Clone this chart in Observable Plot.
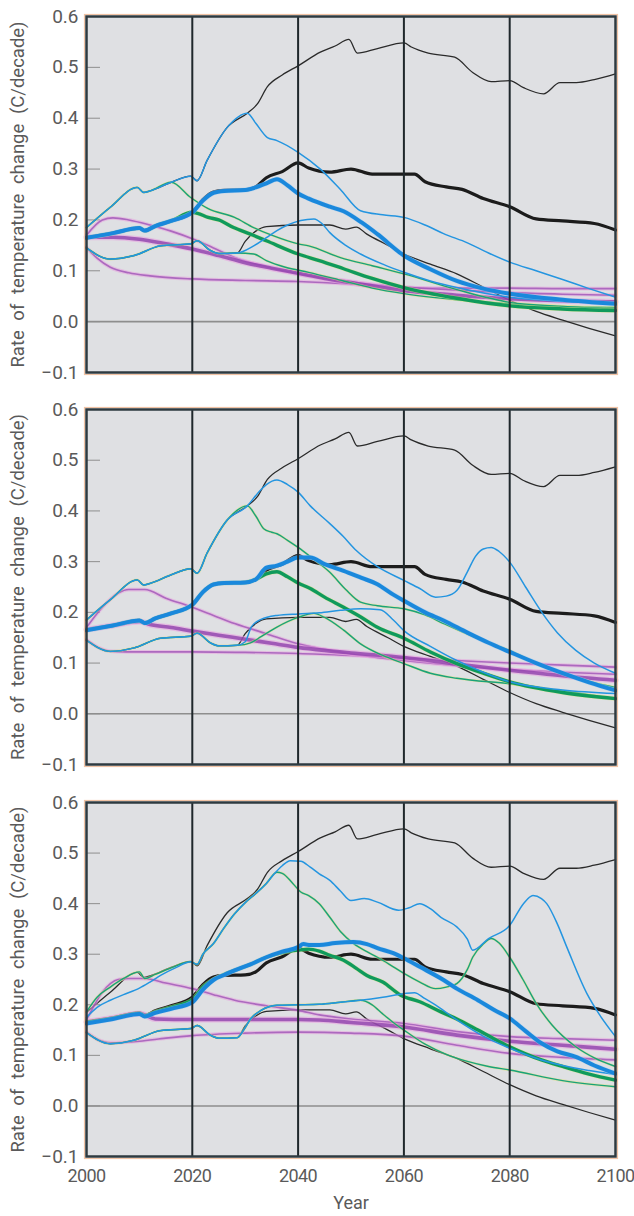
<!DOCTYPE html>
<html>
<head>
<meta charset="utf-8">
<script src="https://cdn.jsdelivr.net/npm/d3@7"></script>
<script src="https://cdn.jsdelivr.net/npm/@observablehq/plot@0.6"></script>
<style>
  html, body { margin: 0; padding: 0; background: #ffffff; }
  #chart svg { display: block; }
  #chart g[aria-label="x-axis tick label"] text { letter-spacing: -0.6px; }
</style>
</head>
<body>
<div id="chart"></div>
<script>
// ---------- axis values ----------
const yTicks = [-0.1, 0.0, 0.1, 0.2, 0.3, 0.4, 0.5, 0.6];
const xTicks = [2000, 2020, 2040, 2060, 2080, 2100];
const decadeLines = [2020, 2040, 2060, 2080];
const yLabel = "Rate of temperature change (C/decade)";
const xLabel = "Year";

// ---------- shared path segments [year, rate] ----------
const centralEarly = [[2000,0.165],[2005,0.174],[2010,0.184],[2011,0.179],[2013,0.188],[2016,0.198],[2020,0.215]];
const upperEarly = [[2000,0.185],[2004.5,0.225],[2009.6,0.264],[2010.8,0.254],[2012,0.257],[2016,0.274],[2019.7,0.286],[2020.9,0.277],[2022.8,0.317],[2026.6,0.382],[2030.4,0.41]];
const lowerEarly = [[2000,0.145],[2004.5,0.123],[2009,0.13],[2014,0.149],[2019.7,0.153],[2020.9,0.159],[2023.4,0.14],[2025,0.134],[2028.5,0.135]];

// ---------- black reference lines (same in all panels) ----------
const blackThickLate = [[2022,0.24],[2024,0.255],[2026,0.258],[2030,0.259],[2032,0.265],[2034,0.283],[2037,0.295],[2040,0.312],[2042,0.302],[2046,0.294],[2050,0.3],[2054,0.29],[2062,0.29],[2064,0.275],[2068,0.265],[2071,0.26],[2075,0.242],[2080,0.226],[2085,0.202],[2090,0.198],[2096,0.193],[2100,0.18]];
const blackUpperLate = [[2032.3,0.428],[2034.2,0.462],[2037,0.485],[2040,0.503],[2044.2,0.53],[2047,0.542],[2049.6,0.555],[2051.2,0.528],[2055,0.537],[2060,0.548],[2061.4,0.54],[2064.6,0.528],[2069.6,0.52],[2073,0.49],[2076.5,0.472],[2080,0.474],[2082.6,0.46],[2086.4,0.448],[2089.5,0.47],[2092.6,0.47],[2096,0.476],[2100,0.487]];
const blackLowerLate = [[2030,0.158],[2032,0.178],[2034,0.187],[2040,0.19],[2046,0.19],[2049,0.182],[2051,0.186],[2053,0.172],[2057,0.15],[2060,0.133],[2065,0.113],[2070,0.094],[2075,0.068],[2080,0.042],[2085,0.02],[2090,0.003],[2095,-0.013],[2100,-0.028]];

// ---------- panel 1 ----------
const p1BlueThickLate = [[2022,0.238],[2024,0.253],[2026,0.257],[2030,0.259],[2032,0.264],[2034,0.272],[2036,0.28],[2038,0.268],[2040,0.252],[2042,0.242],[2046,0.226],[2048.6,0.217],[2052,0.195],[2055,0.172],[2060,0.13],[2065,0.103],[2070,0.08],[2075,0.065],[2080,0.055],[2090,0.043],[2100,0.035]];
const p1BlueUpperLate = [[2032,0.39],[2034.2,0.362],[2036,0.356],[2040,0.333],[2044.2,0.3],[2048,0.26],[2051.8,0.218],[2056,0.21],[2060,0.205],[2064,0.19],[2067.5,0.173],[2072,0.155],[2076,0.135],[2080,0.117],[2085,0.1],[2090,0.083],[2095,0.065],[2100,0.048]];
const p1BlueLowerLate = [[2031.6,0.149],[2034,0.165],[2036,0.179],[2038,0.19],[2040.5,0.199],[2043,0.202],[2044.5,0.193],[2046,0.175],[2049,0.15],[2051.8,0.133],[2056,0.113],[2060,0.097],[2065,0.08],[2070,0.067],[2080,0.048],[2090,0.04],[2100,0.035]];
const p1GreenThickLate = [[2021,0.213],[2023,0.205],[2025,0.2],[2027.8,0.185],[2031,0.172],[2034,0.159],[2040,0.133],[2044,0.12],[2048.6,0.104],[2054,0.085],[2060,0.067],[2070,0.046],[2080,0.031],[2090,0.025],[2100,0.022]];
const p1GreenUpperLate = [[2019.7,0.244],[2023,0.222],[2028,0.205],[2031.6,0.185],[2035,0.17],[2040,0.153],[2042,0.149],[2048,0.126],[2054,0.11],[2060,0.094],[2070,0.063],[2080,0.038],[2090,0.03],[2100,0.025]];
const p1GreenLowerLate = [[2031.6,0.133],[2034,0.12],[2037.6,0.107],[2042,0.097],[2048.6,0.08],[2054,0.066],[2060,0.055],[2070,0.043],[2080,0.035],[2090,0.03],[2100,0.028]];
const p1PurpleUpper = [[2000,0.17],[2003,0.2],[2005,0.204],[2008,0.2],[2012,0.19],[2016,0.178],[2020,0.163],[2024,0.145],[2028,0.126],[2034,0.108],[2040,0.094],[2045,0.085],[2050,0.078],[2060,0.068],[2070,0.062],[2080,0.057],[2090,0.054],[2100,0.052]];
const p1PurpleThick = [[2000,0.166],[2005,0.166],[2010,0.162],[2015,0.153],[2020,0.143],[2025,0.13],[2030,0.116],[2035,0.105],[2040,0.095],[2045,0.085],[2050,0.077],[2060,0.061],[2070,0.052],[2080,0.045],[2090,0.041],[2100,0.039]];
const p1PurpleLower = [[2000,0.146],[2002,0.125],[2004.5,0.107],[2008,0.096],[2012,0.09],[2020,0.084],[2030,0.081],[2040,0.079],[2050,0.074],[2060,0.067],[2070,0.066],[2080,0.066],[2090,0.065],[2100,0.065]];

// ---------- panel 2 ----------
const p2BlueThickLate = [[2034,0.288],[2036,0.292],[2038,0.3],[2040,0.308],[2042.3,0.308],[2045,0.295],[2048.6,0.282],[2052,0.268],[2054.9,0.256],[2058,0.235],[2060,0.223],[2064,0.2],[2067.5,0.184],[2072,0.16],[2076,0.14],[2080,0.122],[2085,0.1],[2090,0.08],[2095,0.062],[2100,0.046]];
const p2GreenThickLate = [[2032,0.265],[2034,0.276],[2036,0.28],[2038,0.27],[2040,0.258],[2042.3,0.247],[2045,0.23],[2048.6,0.21],[2052,0.19],[2054.9,0.171],[2060,0.149],[2065,0.122],[2070,0.099],[2075,0.08],[2080,0.063],[2090,0.042],[2100,0.03]];
const p2BlueUpperLate = [[2032.3,0.434],[2034,0.452],[2036,0.461],[2038,0.452],[2040,0.437],[2042.3,0.41],[2046,0.375],[2048.5,0.35],[2051,0.322],[2055,0.29],[2060,0.263],[2063,0.247],[2066,0.23],[2068,0.232],[2070,0.243],[2072,0.28],[2073.5,0.31],[2075,0.325],[2076.5,0.328],[2078,0.32],[2080,0.299],[2083,0.25],[2086.2,0.198],[2089,0.16],[2092.5,0.125],[2096,0.1],[2100,0.08]];
const p2GreenUpperLate = [[2032,0.39],[2033.5,0.365],[2035,0.358],[2036,0.355],[2038,0.342],[2040,0.328],[2042.3,0.31],[2046,0.279],[2049,0.245],[2051.8,0.22],[2055,0.213],[2060,0.207],[2064,0.195],[2067.5,0.178],[2072,0.157],[2076,0.14],[2080,0.125],[2085,0.1],[2090,0.08],[2095,0.064],[2100,0.052]];
const p2BlueLowerLate = [[2030,0.142],[2031.2,0.172],[2033,0.186],[2036,0.194],[2040,0.197],[2044,0.199],[2048,0.204],[2051.8,0.207],[2055.5,0.205],[2058,0.185],[2060,0.164],[2065,0.133],[2070,0.105],[2075,0.082],[2080,0.063],[2090,0.047],[2100,0.04]];
const p2GreenLowerLate = [[2031,0.14],[2033,0.152],[2036,0.171],[2040,0.19],[2043,0.198],[2045,0.19],[2048.6,0.165],[2051.8,0.138],[2056,0.115],[2060,0.099],[2065,0.08],[2070,0.07],[2080,0.059],[2090,0.045],[2100,0.03]];
const p2PurpleUpper = [[2000,0.17],[2003,0.21],[2006,0.238],[2008,0.245],[2011,0.245],[2015,0.228],[2020,0.21],[2024,0.194],[2028,0.178],[2034,0.158],[2040,0.138],[2045,0.127],[2050,0.118],[2060,0.105],[2070,0.095],[2080,0.087],[2090,0.082],[2100,0.078]];
const p2PurpleThick = [[2000,0.166],[2005,0.174],[2010,0.182],[2012,0.176],[2016,0.17],[2020,0.163],[2025,0.155],[2030,0.147],[2035,0.139],[2040,0.131],[2045,0.125],[2050,0.12],[2060,0.111],[2070,0.098],[2080,0.086],[2090,0.075],[2100,0.066]];
const p2PurpleLower = [[2000,0.146],[2002,0.132],[2005,0.123],[2010,0.122],[2020,0.122],[2030,0.121],[2040,0.119],[2050,0.115],[2060,0.11],[2070,0.105],[2080,0.1],[2090,0.096],[2100,0.092]];

// ---------- panel 3 ----------
const p3BlueUpper = [[2000,0.175],[2002,0.195],[2004.5,0.209],[2007,0.22],[2010,0.233],[2012,0.245],[2014,0.258],[2017,0.274],[2019.7,0.285],[2020.9,0.28],[2022,0.3],[2024,0.321],[2026,0.352],[2028,0.38],[2030,0.402],[2032,0.42],[2034,0.44],[2035.5,0.459],[2037,0.475],[2038.5,0.485],[2040.5,0.484],[2042.3,0.472],[2044,0.459],[2046,0.446],[2048,0.425],[2050,0.406],[2052.5,0.41],[2055,0.403],[2059,0.387],[2061,0.392],[2063,0.4],[2065,0.39],[2067,0.373],[2070,0.354],[2072,0.33],[2073,0.308],[2076,0.331],[2080,0.357],[2082.6,0.4],[2084.4,0.416],[2086,0.41],[2087,0.4],[2089,0.36],[2090.8,0.314],[2094.6,0.222],[2097,0.18],[2100,0.137]];
const p3GreenUpper = [[2000,0.186],[2002,0.215],[2004.5,0.235],[2007,0.252],[2010,0.265],[2011,0.252],[2013,0.26],[2016,0.273],[2019.7,0.285],[2020.9,0.28],[2022,0.3],[2024,0.321],[2026,0.352],[2028,0.38],[2030,0.402],[2032,0.42],[2034,0.44],[2036,0.462],[2037,0.46],[2039,0.44],[2040.5,0.423],[2042,0.416],[2044,0.4],[2046,0.373],[2048,0.345],[2050.5,0.321],[2053,0.305],[2055,0.294],[2058,0.275],[2060,0.262],[2063,0.245],[2066,0.232],[2068,0.235],[2070,0.242],[2072,0.27],[2073,0.294],[2075,0.32],[2076.5,0.331],[2078,0.322],[2080,0.294],[2082.5,0.25],[2085,0.203],[2088,0.16],[2092.5,0.117],[2096,0.095],[2100,0.078]];
const p3BlueThick = [[2000,0.163],[2005,0.172],[2010,0.182],[2011,0.177],[2013,0.184],[2016,0.192],[2020,0.205],[2022,0.23],[2024,0.249],[2026,0.259],[2028,0.268],[2031,0.28],[2034,0.294],[2037,0.305],[2040,0.314],[2041,0.32],[2042.3,0.318],[2044,0.318],[2047,0.322],[2050.5,0.324],[2053,0.32],[2055,0.312],[2058,0.302],[2060,0.292],[2063,0.275],[2067.5,0.249],[2070,0.232],[2074,0.209],[2077,0.19],[2080,0.173],[2083,0.148],[2086,0.124],[2089,0.108],[2092.5,0.097],[2096,0.08],[2100,0.064]];
const p3GreenThick = [[2000,0.165],[2005,0.173],[2010,0.183],[2011,0.178],[2013,0.186],[2016,0.195],[2020,0.21],[2022,0.235],[2024,0.25],[2026,0.26],[2028,0.268],[2031,0.28],[2034,0.294],[2037,0.303],[2040,0.308],[2042,0.31],[2044,0.306],[2046,0.298],[2048.6,0.288],[2051,0.272],[2053,0.258],[2056,0.245],[2059.4,0.219],[2063,0.206],[2067,0.186],[2070,0.172],[2074,0.15],[2077,0.133],[2080,0.117],[2083,0.103],[2086,0.091],[2090,0.078],[2095,0.063],[2100,0.051]];
const p3BlueLowerLate = [[2029.7,0.15],[2031,0.172],[2033,0.189],[2036,0.199],[2040,0.2],[2044,0.201],[2048,0.205],[2051.8,0.209],[2056,0.215],[2060,0.222],[2062,0.224],[2064,0.212],[2066.5,0.196],[2070,0.17],[2075,0.138],[2080,0.114],[2086,0.091],[2090,0.08],[2095,0.07],[2100,0.062]];
const p3GreenLowerLate = [[2029.7,0.15],[2031,0.172],[2033,0.189],[2036,0.199],[2040,0.2],[2044,0.201],[2048,0.205],[2051.8,0.209],[2054,0.2],[2056,0.182],[2058,0.165],[2060,0.15],[2064,0.122],[2068,0.102],[2072,0.088],[2076,0.078],[2080,0.071],[2090,0.05],[2100,0.038]];
const p3PurpleUpper = [[2000,0.17],[2003,0.225],[2006,0.25],[2008,0.252],[2011,0.252],[2015,0.243],[2020,0.232],[2024,0.22],[2028,0.209],[2034,0.198],[2040,0.189],[2044,0.18],[2050,0.172],[2060,0.163],[2070,0.147],[2080,0.137],[2090,0.133],[2100,0.13]];
const p3PurpleThick = [[2000,0.166],[2005,0.174],[2010,0.183],[2011,0.18],[2013,0.172],[2020,0.171],[2030,0.171],[2040,0.171],[2044,0.17],[2050,0.165],[2060,0.156],[2070,0.14],[2080,0.128],[2090,0.12],[2100,0.112]];
const p3PurpleLower = [[2000,0.146],[2002,0.132],[2004.5,0.125],[2010,0.128],[2015,0.134],[2020,0.139],[2030,0.144],[2040,0.146],[2050,0.144],[2060,0.138],[2070,0.12],[2080,0.104],[2090,0.096],[2100,0.091]];

// ---------- assemble panels ----------
const blackThick = centralEarly.concat(blackThickLate);
const blackUpper = upperEarly.concat(blackUpperLate);
const blackLower = lowerEarly.concat(blackLowerLate);

const panels = [
  {
    blackThick, blackUpper, blackLower,
    purpleUpper: p1PurpleUpper, purpleThick: p1PurpleThick, purpleLower: p1PurpleLower,
    greenUpper: upperEarly.slice(0, 6).concat(p1GreenUpperLate),
    greenLower: lowerEarly.concat(p1GreenLowerLate),
    greenThick: centralEarly.concat(p1GreenThickLate),
    blueUpper: upperEarly.concat(p1BlueUpperLate),
    blueLower: lowerEarly.concat(p1BlueLowerLate),
    blueThick: centralEarly.concat(p1BlueThickLate)
  },
  {
    blackThick, blackUpper, blackLower,
    purpleUpper: p2PurpleUpper, purpleThick: p2PurpleThick, purpleLower: p2PurpleLower,
    greenUpper: upperEarly.concat(p2GreenUpperLate),
    greenLower: lowerEarly.concat(p2GreenLowerLate),
    greenThick: blackThick.filter(d => d[0] <= 2030).concat(p2GreenThickLate),
    blueUpper: upperEarly.concat(p2BlueUpperLate),
    blueLower: lowerEarly.concat(p2BlueLowerLate),
    blueThick: blackThick.filter(d => d[0] <= 2032).concat(p2BlueThickLate)
  },
  {
    blackThick, blackUpper, blackLower,
    purpleUpper: p3PurpleUpper, purpleThick: p3PurpleThick, purpleLower: p3PurpleLower,
    greenUpper: p3GreenUpper,
    greenLower: lowerEarly.concat(p3GreenLowerLate),
    greenThick: p3GreenThick,
    blueUpper: p3BlueUpper,
    blueLower: lowerEarly.concat(p3BlueLowerLate),
    blueThick: p3BlueThick
  }
];

// ---------- styles ----------
const drawOrder = ["blackUpper","blackLower","blackThick","purpleLower","purpleUpper","purpleThick","greenLower","greenUpper","greenThick","blueLower","blueUpper","blueThick"];
const lineStyle = {
  blackThick:  {core: "#1c1c1c", w: 3.2},
  blackUpper:  {core: "#2a2a2a", w: 1.3},
  blackLower:  {core: "#2a2a2a", w: 1.3},
  purpleThick: {core: "#8a3aa8", w: 3.6, halo: "#e79ee0", hw: 6, op: 0.75},
  purpleUpper: {core: "#9a4cb4", w: 1.6, halo: "#e6a2de", hw: 3.8, op: 0.75},
  purpleLower: {core: "#9a4cb4", w: 1.6, halo: "#e6a2de", hw: 3.8, op: 0.75},
  greenThick:  {core: "#0f9a5c", w: 3.4, halo: "#d8e27a", hw: 4.4, op: 1},
  greenUpper:  {core: "#19a27a", w: 1.4, halo: "#e2e07e", hw: 2.6, op: 1},
  greenLower:  {core: "#19a27a", w: 1.4, halo: "#e2e07e", hw: 2.6, op: 1},
  blueThick:   {core: "#1a88dc", w: 4, halo: "#9fcaf0", hw: 5, op: 1},
  blueUpper:   {core: "#2495e0", w: 1.5},
  blueLower:   {core: "#2495e0", w: 1.5}
};

const FONT = "Roboto, 'Open Sans', 'DejaVu Sans', sans-serif";
const layout = [
  {height: 390, marginTop: 16, marginBottom: 18, xaxis: false},
  {height: 384, marginTop: 19, marginBottom: 10, xaxis: false},
  {height: 442, marginTop: 28, marginBottom: 60, xaxis: true}
];

const chart = document.getElementById("chart");

panels.forEach((panel, i) => {
  const L = layout[i];
  const marks = [
    Plot.frame({fill: "#dfe0e3"}),
    Plot.ruleY([0], {stroke: "#8e8e8e", strokeWidth: 1.6}),
    Plot.axisY({ticks: yTicks, tickSize: -14, tickPadding: 22, tickFormat: d3.format(".1f"),
      stroke: "#8e8e8e", fill: "#5a5a5a", fontSize: 19, label: null})
  ];
  drawOrder.forEach(key => {
    const s = lineStyle[key];
    const pts = panel[key];
    if (s.halo) {
      marks.push(Plot.line(pts, {x: d => d[0], y: d => d[1], curve: "monotone-x",
        stroke: s.halo, strokeWidth: s.hw, strokeOpacity: 0.55}));
    }
    marks.push(Plot.line(pts, {x: d => d[0], y: d => d[1], curve: "monotone-x",
      stroke: s.core, strokeWidth: s.w, strokeOpacity: s.op ?? 1}));
  });
  marks.push(
    Plot.ruleX(decadeLines, {stroke: "#1f272b", strokeWidth: 2}),
    Plot.frame({inset: -2, stroke: "#f1c3a5", strokeWidth: 1.2}),
    Plot.frame({stroke: "#2e3a40", strokeWidth: 2.5}),
    Plot.text([yLabel], {frameAnchor: "left", rotate: -90, dx: -68, fontSize: 18.5,
      fill: "#5a5a5a", textAnchor: "middle", lineAnchor: "middle"})
  );
  if (L.xaxis) {
    marks.push(
      Plot.axisX({ticks: xTicks, tickSize: 0, tickPadding: 13, tickFormat: d => String(d),
        fill: "#5a5a5a", fontSize: 18, label: null}),
      Plot.text([xLabel], {frameAnchor: "bottom", dy: 47, fontSize: 18,
        fill: "#5a5a5a", textAnchor: "middle", lineAnchor: "middle"})
    );
  }
  const svg = Plot.plot({
    width: 634,
    height: L.height,
    marginLeft: 86,
    marginRight: 19,
    marginTop: L.marginTop,
    marginBottom: L.marginBottom,
    style: {fontFamily: FONT, background: "#ffffff", overflow: "visible"},
    x: {domain: [2000, 2100], axis: null},
    y: {domain: [-0.1, 0.6], axis: null},
    marks
  });
  chart.appendChild(svg);
});
// widen the word gaps of the rotated axis titles, as in the original
document.querySelectorAll("#chart svg text").forEach(t => {
  if (t.textContent === yLabel) t.setAttribute("word-spacing", "5");
});
</script>
</body>
</html>
